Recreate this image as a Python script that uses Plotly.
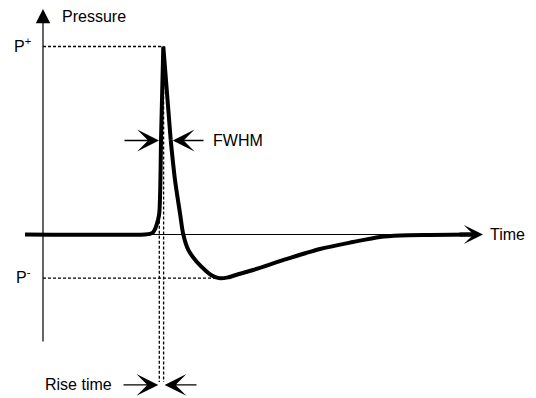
import plotly.graph_objects as go

# Pressure pulse waveform (time in arbitrary units, pressure normalised to P+)
time = [-1.8, 10.2, 10.7, 11.0, 11.25, 11.5, 11.63, 11.8, 12.03,
        12.77, 13.2, 13.7, 14.03, 14.53, 15.37, 16.2, 16.8, 17.6,
        18.5, 19.6, 21.0, 24.4, 27.7, 31.0, 33.7, 35.7, 38.7, 43.0]
pressure = [0.0, 0.0, 0.003, 0.011, 0.035, 0.077, 0.114, 0.503, 1.0,
            0.503, 0.290, 0.113, 0.0, -0.082, -0.145, -0.189, -0.215, -0.232,
            -0.228, -0.210, -0.189, -0.130, -0.077, -0.040, -0.013, -0.005, -0.002, 0.0]

# Characteristic points of the pulse
p_plus = max(pressure)
p_minus = min(pressure)
i_peak = pressure.index(p_plus)
t_peak = time[i_peak]
t_trough = time[pressure.index(p_minus)]
t_rise_start = 11.63          # 10 % point on the rising edge
fwhm_left, fwhm_right = 11.8, 12.77   # half-maximum crossings

# Pixel mapping for the canvas
W, H = 536, 398
x0_px, y0_px = 43, 234.5      # origin of the sketch axes
px_t, px_p = 10.0, 188.0
x_range = [-x0_px / px_t, (W - x0_px) / px_t]
y_range = [-(H - y0_px) / px_p, y0_px / px_p]

y_top = 1.2
y_bottom = -0.577
y_rise = -0.80
t_axis_end = 44.0

FONT = dict(family="Arial, Liberation Sans, sans-serif", size=16, color="black")
DASH = "3px,2px"

fig = go.Figure()

# guide lines
guides = [
    ([0, t_peak], [p_plus, p_plus]),
    ([0, t_trough], [p_minus, p_minus]),
    ([t_rise_start, t_rise_start], [0.1, y_rise + 0.015]),
    ([t_peak + 0.03, t_peak + 0.03], [p_plus, y_rise + 0.015]),
]
for gx, gy in guides:
    fig.add_trace(go.Scatter(x=gx, y=gy, mode="lines", hoverinfo="skip",
                             line=dict(color="black", width=1.3, dash=DASH)))

# thin time axis
fig.add_trace(go.Scatter(x=[0, t_axis_end - 1.5], y=[0, 0], mode="lines",
                         hoverinfo="skip", line=dict(color="black", width=1.2)))

# the waveform: smooth foot, sharp spike, smooth recovery
i_left = time.index(fwhm_left)
i_right = time.index(fwhm_right)
segments = [
    (slice(0, i_left + 1), "spline"),
    (slice(i_left, i_right + 1), "linear"),
    (slice(i_right, len(time)), "spline"),
]
for sl, shape in segments:
    fig.add_trace(go.Scatter(x=time[sl], y=pressure[sl], mode="lines",
                             hoverinfo="skip",
                             line=dict(color="black", width=4, shape=shape,
                                       smoothing=0.8)))


def arrow(x, y, ax, ay, width, size, head=3, standoff=0):
    fig.add_annotation(x=x, y=y, ax=ax, ay=ay, xref="x", yref="y",
                       axref="x", ayref="y", text="", showarrow=True,
                       arrowhead=head, arrowwidth=width, arrowsize=size,
                       arrowcolor="black", standoff=standoff)


def label(text, x, y, xanchor="left", yshift=0):
    fig.add_annotation(x=x, y=y, xref="x", yref="y", text=text,
                       showarrow=False, xanchor=xanchor, yanchor="middle",
                       font=FONT, yshift=yshift)


# axes arrows
arrow(0, y_top, 0, y_bottom, 1.2, 2.4, head=2)
arrow(t_axis_end, 0, t_axis_end - 2.5, 0, 4, 0.8)

# FWHM arrows
arrow(fwhm_left, p_plus / 2, 8.0, p_plus / 2, 1.3, 2.8, standoff=2)
arrow(fwhm_right, p_plus / 2, 16.2, p_plus / 2, 1.3, 2.8, standoff=2)

# rise time arrows
arrow(t_rise_start, y_rise, 7.9, y_rise, 1.3, 2.8, standoff=1)
arrow(t_peak + 0.03, y_rise, 15.5, y_rise, 1.3, 2.8, standoff=1)

# texts
label("Pressure", 1.7, 1.162)
label("P<sup>+</sup>", -1.0, p_plus, xanchor="right", yshift=2)
label("P<sup>-</sup>", -1.0, p_minus, xanchor="right", yshift=2)
label("FWHM", 16.8, p_plus / 2)
label("Time", 44.5, 0)
label("Rise time", 0, y_rise)

fig.update_layout(
    width=W, height=H, margin=dict(l=0, r=0, t=0, b=0),
    paper_bgcolor="white", plot_bgcolor="white", showlegend=False,
    xaxis=dict(range=x_range, visible=False, fixedrange=True),
    yaxis=dict(range=y_range, visible=False, fixedrange=True),
)

fig.write_html("out.html")
